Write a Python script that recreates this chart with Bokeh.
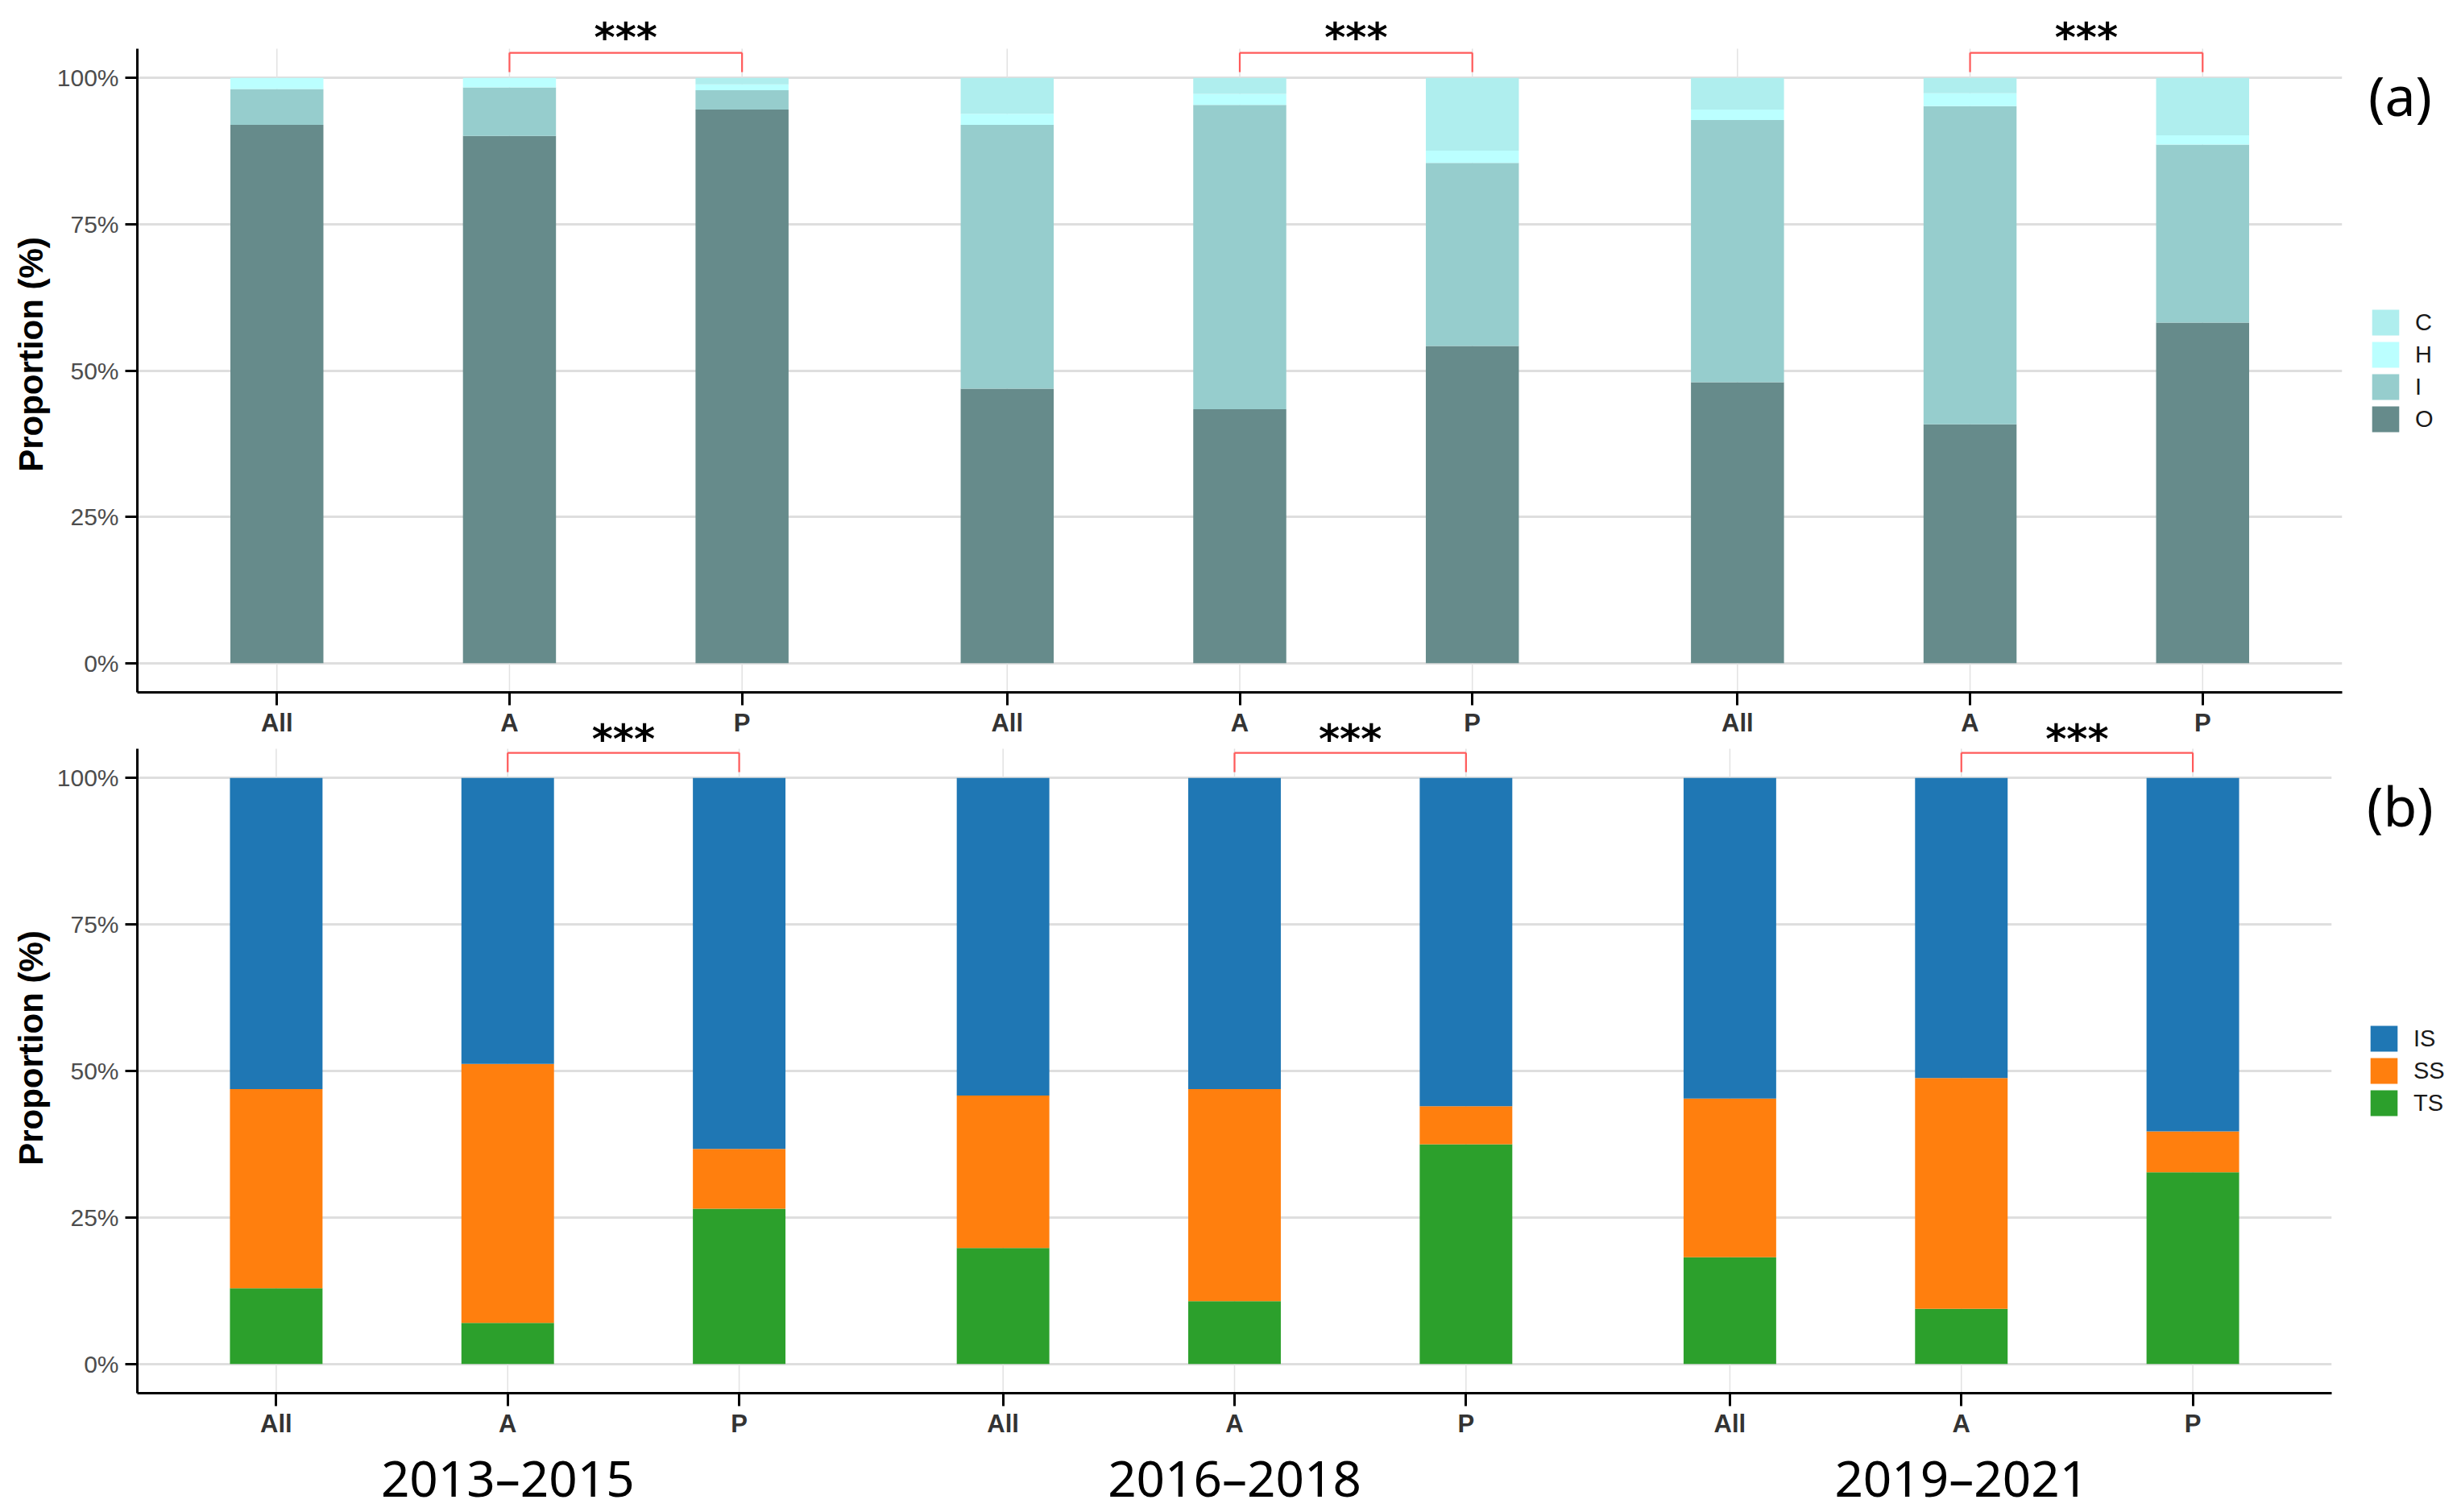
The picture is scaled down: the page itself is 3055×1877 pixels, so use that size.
from bokeh.plotting import figure
from bokeh.models import (ColumnDataSource, FactorRange, Range1d, Legend, LegendItem,
                          NumeralTickFormatter, FixedTicker)
from bokeh.layouts import column
from bokeh.core.properties import value
from bokeh.embed import file_html
from bokeh.resources import INLINE

# ---------------- data ----------------
periods = ["2013–2015", "2016–2018", "2019–2021"]
groups = ["All", "A", "P"]

# panel (a): proportions in %, order = period x group
a_O = [92.0, 90.1, 94.6, 46.9, 43.4, 54.2, 48.0, 40.8, 58.2]
a_I = [6.1, 8.3, 3.3, 45.1, 52.0, 31.3, 44.8, 54.4, 30.4]
a_H = [1.9, 1.6, 1.0, 1.9, 1.9, 2.1, 1.8, 2.2, 1.6]
a_C = [0.0, 0.0, 1.1, 6.1, 2.7, 12.4, 5.4, 2.6, 9.8]
a_keys = ["O", "I", "H", "C"]
a_colors = ["#668B8B", "#96CDCD", "#BBFFFF", "#AFEEEE"]

# panel (b): proportions in %
b_TS = [12.9, 7.0, 26.5, 19.8, 10.7, 37.5, 18.2, 9.4, 32.7]
b_SS = [34.0, 44.2, 10.2, 26.0, 36.2, 6.5, 27.1, 39.4, 7.0]
b_IS = [53.1, 48.8, 63.3, 54.2, 53.1, 56.0, 54.7, 51.2, 60.3]
b_keys = ["TS", "SS", "IS"]
b_colors = ["#2ca02c", "#ff7f0e", "#1f77b4"]

sig_pairs = [("A", "P"), ("A", "P"), ("A", "P")]
sig_text = ["***", "***", "***"]
panel_tags = ["(a)", "(b)"]
y_ticks = [0, 0.25, 0.5, 0.75, 1.0]

factors = [(p, g) for p in periods for g in groups]

Y0, Y1 = -0.05, 1.05          # ggplot-like expanded panel range


def base_fig(frame_w, panel_h, extra_top, mb_l, mb_r, mb_t, mb_b):
    k = panel_h / (Y1 - Y0)                     # pixels per unit
    y_top = Y1 + extra_top / k                  # room for significance marks
    xr = FactorRange(*factors, factor_padding=0.0, group_padding=0.14,
                     range_padding=0.1, range_padding_units="absolute")
    p = figure(x_range=xr, y_range=Range1d(Y0, y_top),
               frame_width=frame_w, frame_height=panel_h + extra_top,
               min_border_left=mb_l, min_border_right=mb_r,
               min_border_top=mb_t, min_border_bottom=mb_b,
               output_backend="svg", toolbar_location=None)
    p.outline_line_color = None
    p.background_fill_color = None
    p.border_fill_color = None
    # grids
    p.ygrid.ticker = FixedTicker(ticks=y_ticks)
    p.ygrid.grid_line_color = "#dedede"
    p.ygrid.grid_line_width = 3
    p.xgrid.grid_line_color = None
    p.segment(x0="x", x1="x", y0=Y0, y1=Y1, source=ColumnDataSource(dict(x=factors)),
              line_color="#e2e2e2", line_width=1.5)
    # y axis
    p.yaxis.bounds = (Y0, Y1)
    p.yaxis.ticker = FixedTicker(ticks=y_ticks)
    p.yaxis.formatter = NumeralTickFormatter(format="0%")
    p.yaxis.axis_label = "Proportion (%)"
    p.yaxis.axis_label_text_font = "Liberation Sans"
    p.yaxis.axis_label_text_font_size = "42px"
    p.yaxis.axis_label_text_font_style = "bold"
    p.yaxis.axis_label_text_color = "black"
    p.yaxis.axis_label_standoff = 6
    p.yaxis.major_label_text_font = "Liberation Sans"
    p.yaxis.major_label_text_font_size = "30px"
    p.yaxis.major_label_text_color = "#4d4d4d"
    p.yaxis.major_label_standoff = 8
    p.yaxis.axis_line_width = 3
    p.yaxis.axis_line_color = "black"
    p.yaxis.major_tick_line_width = 3
    p.yaxis.major_tick_out = 15
    p.yaxis.major_tick_in = 0
    p.yaxis.minor_tick_line_color = None
    # x axis
    p.xaxis.axis_line_width = 3
    p.xaxis.axis_line_color = "black"
    p.xaxis.major_tick_line_width = 3
    p.xaxis.major_tick_out = 16
    p.xaxis.major_tick_in = 0
    p.xaxis.major_label_text_font = "Liberation Sans"
    p.xaxis.major_label_text_font_size = "31px"
    p.xaxis.major_label_text_font_style = "bold"
    p.xaxis.major_label_text_color = "#333333"
    p.xaxis.major_label_standoff = 4
    p.xaxis.separator_line_color = None
    return p


def add_sig(p, text_y):
    src = ColumnDataSource(dict(
        xl=[(per, a) for per, (a, b) in zip(periods, sig_pairs)],
        xr=[(per, b) for per, (a, b) in zip(periods, sig_pairs)],
        xm=[(per, a, 0.5) for per, (a, b) in zip(periods, sig_pairs)],
        txt=sig_text,
    ))
    col = "#ff5a5a"
    p.segment(x0="xl", x1="xr", y0=1.043, y1=1.043, source=src, line_color=col, line_width=2.2)
    p.segment(x0="xl", x1="xl", y0=1.043, y1=1.01, source=src, line_color=col, line_width=2.2)
    p.segment(x0="xr", x1="xr", y0=1.043, y1=1.01, source=src, line_color=col, line_width=2.2)
    p.text(x="xm", y=text_y, text="txt", source=src, text_align="center",
           text_baseline="alphabetic", text_font=value("DejaVu Sans"),
           text_font_style=value("bold"), text_font_size=value("50px"),
           text_color="black")


def make_legend(p, renderers, keys, order, loc, tag, tag_gap):
    items = [LegendItem(label=k, renderers=[renderers[keys.index(k)]]) for k in order]
    leg = Legend(items=items, location=loc, orientation="vertical",
                 glyph_width=42, glyph_height=40, spacing=0, label_standoff=16,
                 padding=0, margin=0, border_line_color=None,
                 background_fill_color=None, label_text_font="Liberation Sans",
                 label_text_font_size="29px", label_text_color="#1a1a1a",
                 label_height=40,
                 title=tag, title_text_font="Noto Sans", title_text_font_size="68px",
                 title_text_font_style="normal", title_text_color="black",
                 title_standoff=tag_gap)
    p.add_layout(leg, "right")


# ---------------- panel (a) ----------------
src_a = ColumnDataSource(dict(x=factors,
                              O=[v / 100 for v in a_O], I=[v / 100 for v in a_I],
                              H=[v / 100 for v in a_H], C=[v / 100 for v in a_C]))
p1 = base_fig(2737, 799, 40, 168, 150, 20, 58)
p1.xaxis.group_text_font_size = "1px"
p1.xaxis.group_text_color = None
rs_a = p1.vbar_stack(a_keys, x="x", width=0.4, color=a_colors, line_color=None, source=src_a)
add_sig(p1, 1.068)
make_legend(p1, rs_a, a_keys, ["C", "H", "I", "O"], (33, 319), panel_tags[0], 216)

# ---------------- panel (b) ----------------
src_b = ColumnDataSource(dict(x=factors,
                              TS=[v / 100 for v in b_TS], SS=[v / 100 for v in b_SS],
                              IS=[v / 100 for v in b_IS]))
OVERLAP = 45
p2 = base_fig(2724, 800, 31 + (OVERLAP - 19), 170, 161, 0, 140)
p2.xaxis.group_text_font = "Noto Sans"
p2.xaxis.group_text_font_size = "62px"
p2.xaxis.group_text_color = "black"
p2.xaxis.group_text_font_style = "normal"
rs_b = p2.vbar_stack(b_keys, x="x", width=0.4, color=b_colors, line_color=None, source=src_b)
add_sig(p2, 1.066)
make_legend(p2, rs_b, b_keys, ["IS", "SS", "TS"], (44, 340), panel_tags[1], 223)
p2.margin = (-OVERLAP, 0, 0, 0)

layout = column(p1, p2, spacing=0)
open("out.html", "w").write(file_html(layout, INLINE))
